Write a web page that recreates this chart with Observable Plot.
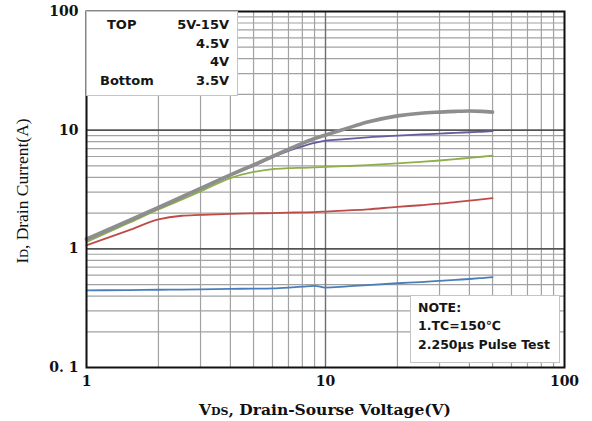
<!DOCTYPE html>
<html><head><meta charset="utf-8">
<script src="https://cdn.jsdelivr.net/npm/d3@7"></script>
<script src="https://cdn.jsdelivr.net/npm/@observablehq/plot@0.6"></script>
<style>
body{margin:0;background:#fff;}
#wrap{position:relative;width:592px;height:421px;overflow:hidden;}
.box{position:absolute;background:#fff;border:1px solid #c4c4c4;font-family:"DejaVu Sans",Verdana,sans-serif;font-weight:bold;font-size:13px;color:#151515;box-sizing:border-box;}
.row{position:relative;height:18.5px;line-height:18.5px;}
.l{position:absolute;text-align:left;}
.r{position:absolute;right:8px;text-align:right;}
</style></head><body><div id="wrap"></div>
<script>
// V_DS sample points (V)
const vds = [1, 1.5, 2, 2.5, 3, 4, 5, 6, 7, 8, 9, 10, 12, 15, 20, 25, 30, 35, 40, 45, 50];
// I_D (A) per curve
const idTop   = [1.21, 1.73, 2.24, 2.74, 3.23, 4.2, 5.1, 6.0, 6.9, 7.75, 8.5, 9.1, 10.2, 11.7, 13.2, 13.9, 14.2, 14.4, 14.5, 14.4, 14.2];
const id45    = [1.18, 1.7, 2.2, 2.7, 3.18, 4.15, 5.0, 5.9, 6.7, 7.3, 7.8, 8.15, 8.4, 8.7, 9.0, 9.2, 9.35, 9.5, 9.6, 9.7, 9.8];
const id4     = [1.14, 1.65, 2.15, 2.6, 3.05, 3.95, 4.45, 4.7, 4.78, 4.82, 4.86, 4.9, 4.97, 5.07, 5.25, 5.4, 5.55, 5.7, 5.85, 5.97, 6.1];
const id35    = [1.07, 1.43, 1.77, 1.9, 1.93, 1.97, 1.99, 2.0, 2.02, 2.03, 2.04, 2.06, 2.1, 2.15, 2.26, 2.33, 2.4, 2.48, 2.55, 2.61, 2.67];
const idBot   = [0.447, 0.449, 0.452, 0.453, 0.455, 0.46, 0.462, 0.465, 0.472, 0.48, 0.488, 0.472, 0.48, 0.495, 0.513, 0.525, 0.537, 0.548, 0.557, 0.567, 0.577];

const xTicks = [1, 10, 100];
const xTickLabels = ["1", "10", "100"];
const yTicks = [0.1, 1, 10, 100];
const yTickLabels = ["0. 1", "1", "10", "100"];
const xGrid = [1,2,3,4,5,6,7,8,9,10,20,30,40,50,60,70,80,90,100];
const yGrid = [0.1,0.2,0.3,0.4,0.5,0.6,0.7,0.8,0.9,1,2,3,4,5,6,7,8,9,10,20,30,40,50,60,70,80,90,100];

const legendLeft = ["TOP", "", "", "Bottom"];
const legendRight = ["5V-15V", "4.5V", "4V", "3.5V"];
const noteLines = ["NOTE:", "1.TC=150\u2103", "2.250\u03bcs Pulse Test"];

const mk = (arr) => vds.map((v, k) => ({v, i: arr[k]}));
const tickFont = {fontFamily: "DejaVu Serif", fontSize: 14, fontWeight: "bold"};

const chart = Plot.plot({
  width: 592, height: 421,
  marginLeft: 86, marginRight: 28, marginTop: 11, marginBottom: 54,
  x: {type: "log", domain: [1, 100], axis: null},
  y: {type: "log", domain: [0.1, 100], axis: null},
  style: {background: "#fff", color: "#111"},
  marks: [
    Plot.ruleX(xGrid, {stroke: "#a2a2a2", strokeWidth: 1.2}),
    Plot.ruleY(yGrid, {stroke: "#a2a2a2", strokeWidth: 1.2}),
    Plot.ruleX([10], {stroke: "#6e6e6e", strokeWidth: 1.3}),
    Plot.ruleY([1, 10], {stroke: "#333", strokeWidth: 1.3}),
    Plot.line(mk(idBot), {x: "v", y: "i", stroke: "#4a7ebb", strokeWidth: 1.8, curve: "monotone-x"}),
    Plot.line(mk(id35), {x: "v", y: "i", stroke: "#be4b48", strokeWidth: 1.8, curve: "monotone-x"}),
    Plot.line(mk(id4), {x: "v", y: "i", stroke: "#8db04a", strokeWidth: 1.8, curve: "monotone-x"}),
    Plot.line(mk(id45), {x: "v", y: "i", stroke: "#6b5b9e", strokeWidth: 1.8, curve: "monotone-x"}),
    Plot.line(mk(idTop), {x: "v", y: "i", stroke: "#8e8e8e", strokeWidth: 3.6, curve: "monotone-x"}),
    Plot.frame({stroke: "#111", strokeWidth: 2}),
    Plot.axisX(xTicks, {anchor: "bottom", tickSize: 0, tickPadding: 9, label: null,
      tickFormat: (d) => xTickLabels[xTicks.indexOf(d)], ...tickFont}),
    Plot.axisY(yTicks, {anchor: "left", tickSize: 0, tickPadding: 8, label: null,
      tickFormat: (d) => yTickLabels[yTicks.indexOf(d)], ...tickFont})
  ]
});

const wrap = document.getElementById("wrap");
wrap.appendChild(chart);

// axis titles
const svg = d3.select(chart);
const xt = svg.append("text").attr("x", 325).attr("y", 415).attr("text-anchor", "middle")
  .attr("font-family", "DejaVu Serif").attr("font-weight", "bold").attr("font-size", 15.5).attr("fill", "#111");
xt.append("tspan").text("V");
xt.append("tspan").attr("font-size", 11).text("DS");
xt.append("tspan").text(", Drain-Sourse Voltage(V)");

const yt = svg.append("text").attr("transform", "translate(28,191) rotate(-90)").attr("text-anchor", "middle")
  .attr("font-family", "Liberation Serif").attr("font-size", 17.5).attr("fill", "#111");
yt.append("tspan").text("I");
yt.append("tspan").attr("font-size", 12).text("D");
yt.append("tspan").text(", Drain Current(A)");

// legend box
const leg = document.createElement("div");
leg.className = "box";
Object.assign(leg.style, {left: "86px", top: "11px", width: "152px", height: "85px", paddingTop: "4px"});
const leftOffsets = [20, 0, 0, 13];
legendRight.forEach((r, k) => {
  const row = document.createElement("div"); row.className = "row";
  const a = document.createElement("span"); a.className = "l"; a.style.left = leftOffsets[k] + "px"; a.textContent = legendLeft[k];
  const b = document.createElement("span"); b.className = "r"; b.textContent = r;
  row.appendChild(a); row.appendChild(b); leg.appendChild(row);
});
wrap.appendChild(leg);

// note box
const note = document.createElement("div");
note.className = "box";
Object.assign(note.style, {left: "410px", top: "295px", width: "150px", height: "68px", paddingTop: "3px", paddingLeft: "7px", fontSize: "12.5px"});
noteLines.forEach((t) => {
  const row = document.createElement("div"); row.className = "row"; row.style.height = "18.3px"; row.style.lineHeight = "18.3px";
  row.textContent = t; note.appendChild(row);
});
wrap.appendChild(note);
</script>
</body></html>
